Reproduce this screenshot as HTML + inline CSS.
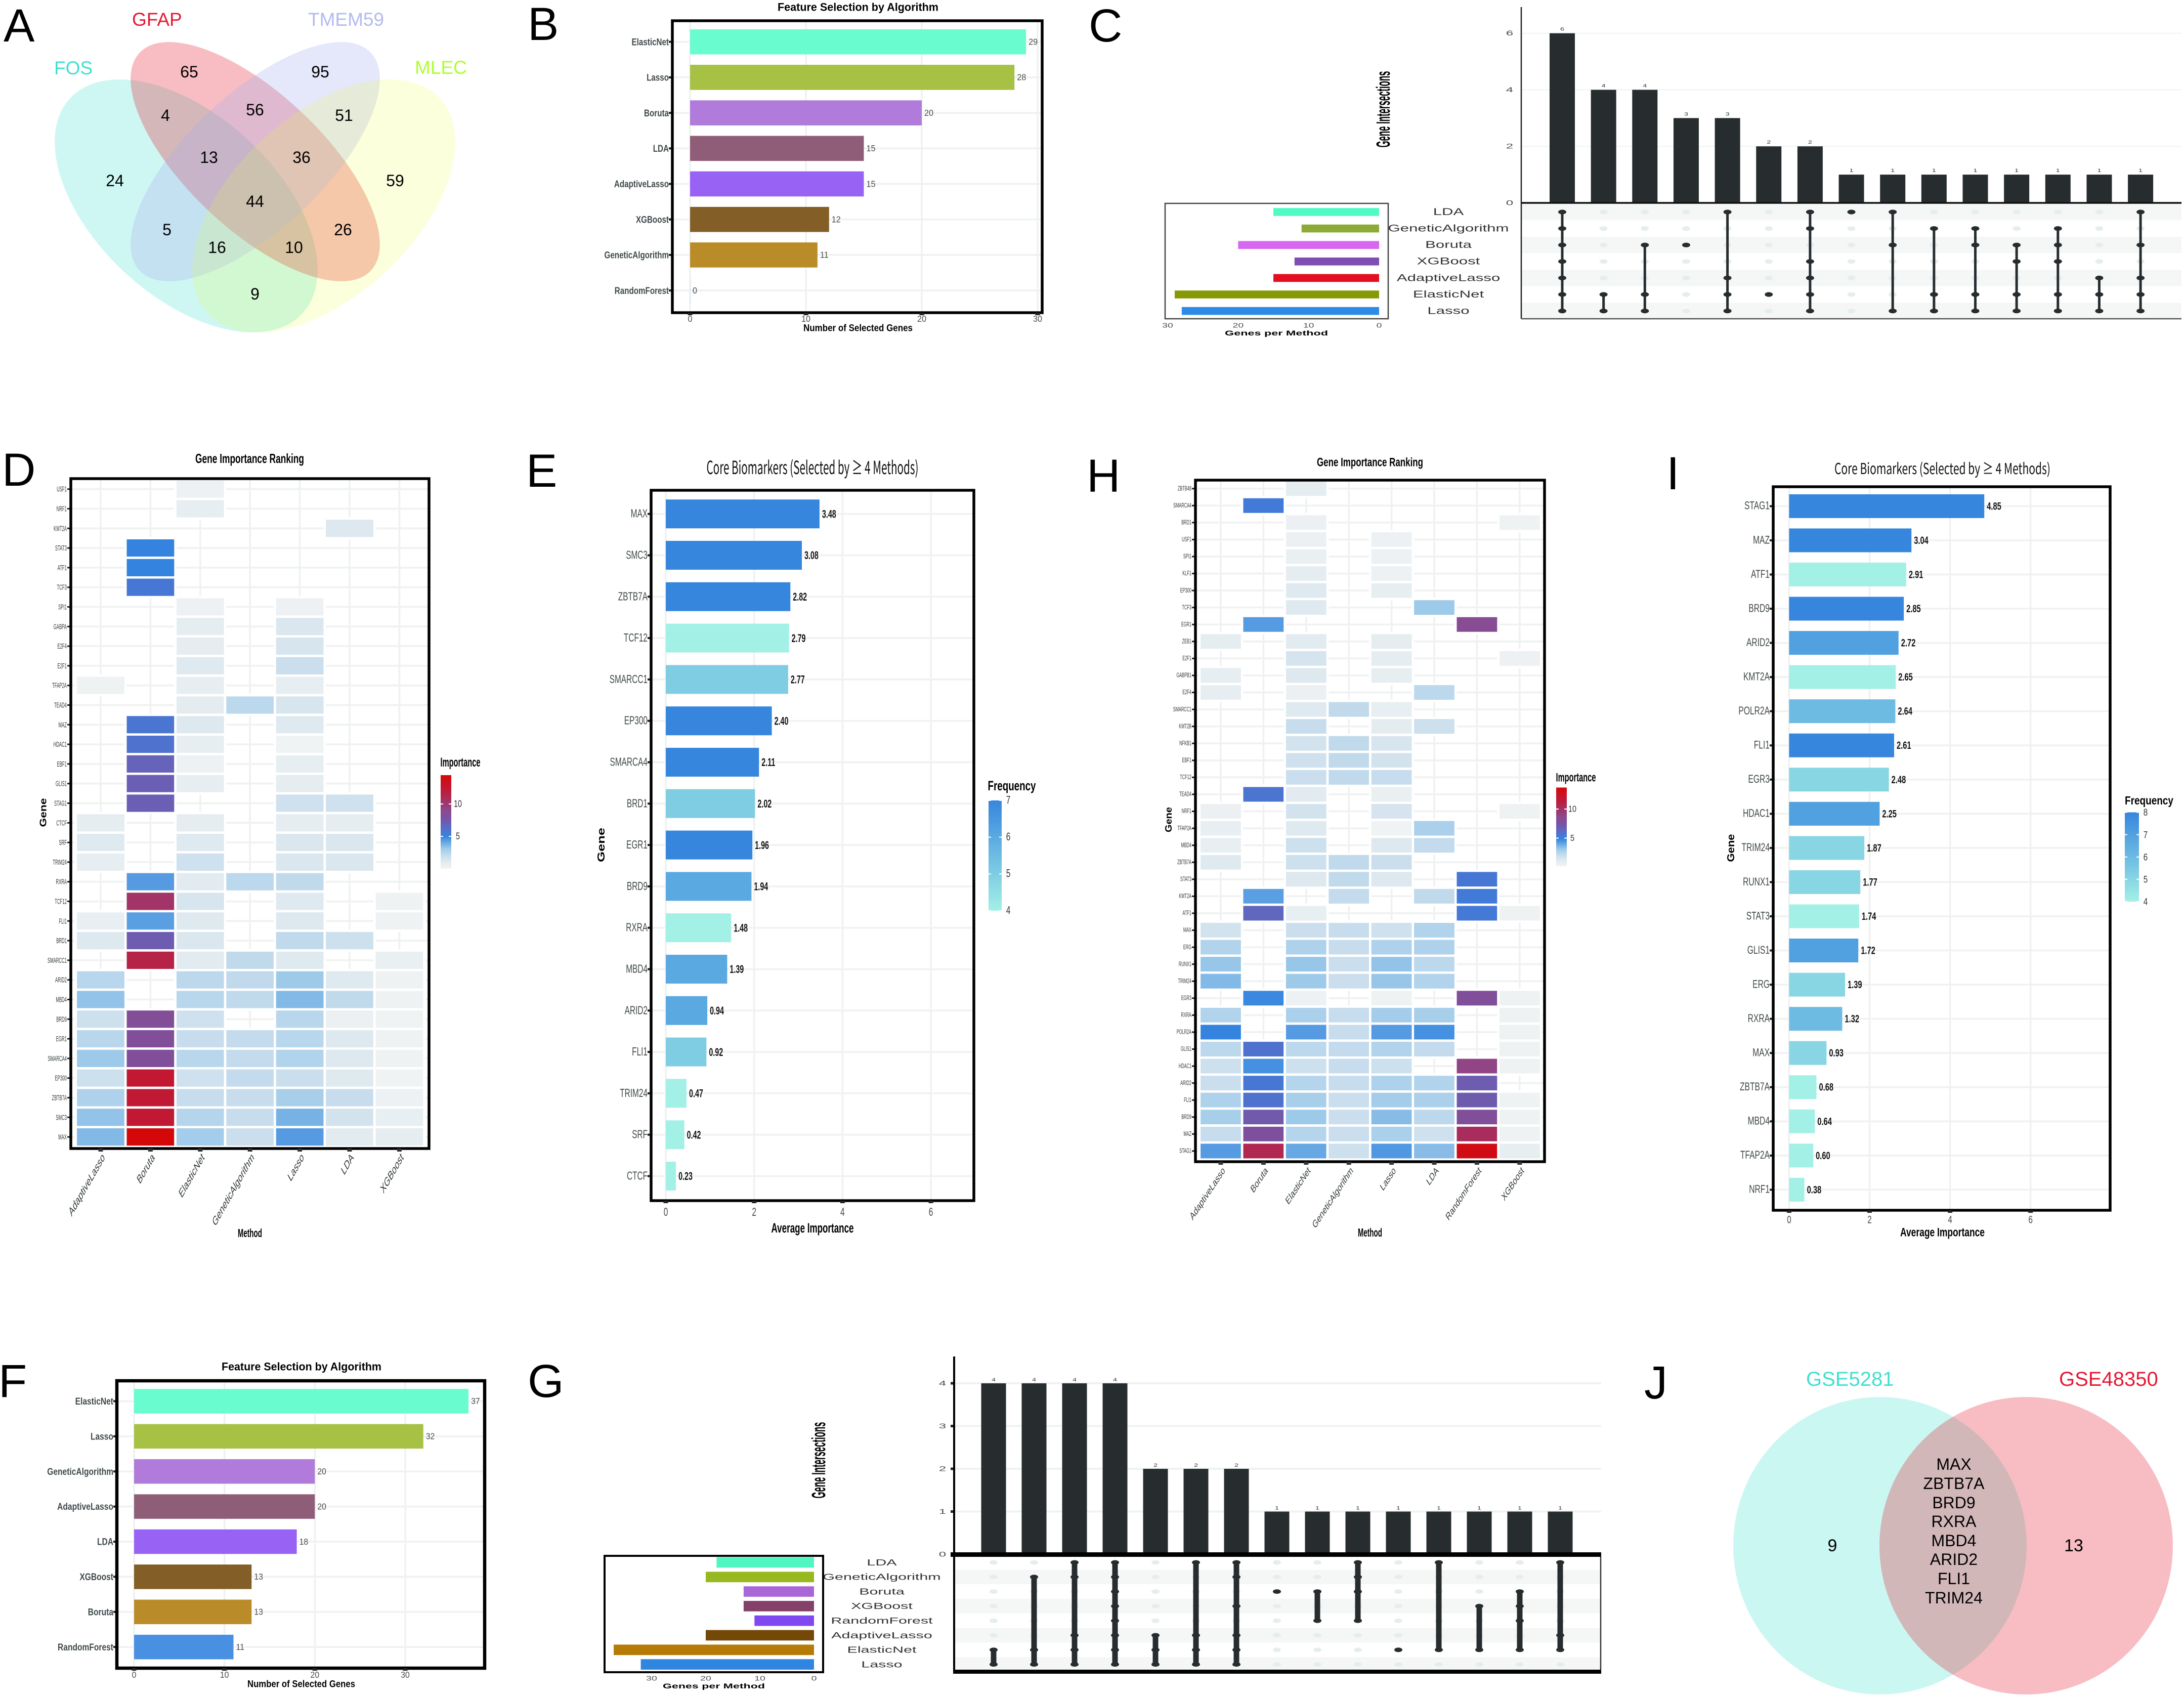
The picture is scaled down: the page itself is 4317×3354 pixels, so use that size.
<!DOCTYPE html>
<html lang="en">
<head>
<meta charset="utf-8">
<title>Machine-learning gene selection figure</title>
<style>
html,body{margin:0;padding:0;background:#fff}
svg{display:block}
text{font-family:"Liberation Sans",sans-serif}
</style>
</head>
<body>
<svg id="figure" xmlns="http://www.w3.org/2000/svg" width="4317" height="3354" viewBox="0 0 4317 3354">
  <rect x="0" y="0" width="4317" height="3354" fill="#ffffff"/>
  <defs id="gradients"></defs>

  <g font-size="92" fill="#000">
    <text x="7" y="82">A</text>
    <text x="1043" y="79">B</text>
    <text x="2152" y="82">C</text>
    <text x="4" y="960">D</text>
    <text x="1040" y="962">E</text>
    <text x="2148" y="972">H</text>
    <text x="3294" y="967">I</text>
    <text x="-3" y="2761">F</text>
    <text x="1043" y="2761">G</text>
    <text x="3250" y="2764">J</text>
  </g>

  <g id="panel-a">
    <ellipse cx="368" cy="407" rx="313" ry="179" transform="rotate(42.8 368 407)" fill="#40E0D0" fill-opacity="0.26"/>
    <ellipse cx="504.5" cy="319.5" rx="314" ry="134" transform="rotate(43.3 504.5 319.5)" fill="#E41A2D" fill-opacity="0.29"/>
    <ellipse cx="504.5" cy="319.5" rx="314" ry="134" transform="rotate(-43.3 504.5 319.5)" fill="#A8B0F0" fill-opacity="0.3"/>
    <ellipse cx="640" cy="407" rx="313" ry="179" transform="rotate(-42.8 640 407)" fill="#E6FF30" fill-opacity="0.17"/>
    <g font-size="37">
      <text x="107" y="147" fill="#40E0D0">FOS</text>
      <text x="261" y="51" fill="#E41A33">GFAP</text>
      <text x="609" y="51" fill="#B3BBF0">TMEM59</text>
      <text x="820" y="146" fill="#ADFF2F">MLEC</text>
    </g>
    <g font-size="32" text-anchor="middle" dominant-baseline="central" fill="#000">
      <text x="374" y="142" dominant-baseline="central">65</text>
      <text x="633" y="142" dominant-baseline="central">95</text>
      <text x="327" y="228" dominant-baseline="central">4</text>
      <text x="504" y="217" dominant-baseline="central">56</text>
      <text x="680" y="228" dominant-baseline="central">51</text>
      <text x="413" y="311" dominant-baseline="central">13</text>
      <text x="596" y="311" dominant-baseline="central">36</text>
      <text x="227" y="357" dominant-baseline="central">24</text>
      <text x="781" y="357" dominant-baseline="central">59</text>
      <text x="504" y="398" dominant-baseline="central">44</text>
      <text x="330" y="454" dominant-baseline="central">5</text>
      <text x="678" y="454" dominant-baseline="central">26</text>
      <text x="429" y="489" dominant-baseline="central">16</text>
      <text x="581" y="489" dominant-baseline="central">10</text>
      <text x="504" y="581" dominant-baseline="central">9</text>
    </g>
  </g>

  <g id="panel-b"></g>
  <g id="panel-c"></g>
  <g id="panel-d"></g>
  <g id="panel-e"></g>
  <g id="panel-h"></g>
  <g id="panel-i"></g>
  <g id="panel-f"></g>
  <g id="panel-g"></g>

  <g id="panel-j">
    <ellipse cx="3716" cy="3055" rx="290" ry="294" fill="#40E0D0" fill-opacity="0.27"/>
    <ellipse cx="4005" cy="3055" rx="290" ry="294" fill="#E41A2D" fill-opacity="0.29"/>
    <text x="3570" y="2739" font-size="40" fill="#40E0D0">GSE5281</text>
    <text x="4070" y="2739" font-size="40" fill="#E41A33">GSE48350</text>
    <text x="3622" y="3055" font-size="34" text-anchor="middle" dominant-baseline="central">9</text>
    <text x="4099" y="3055" font-size="34" text-anchor="middle" dominant-baseline="central">13</text>
    <g font-size="32" text-anchor="middle">
      <text x="3862" y="2894" dominant-baseline="central">MAX</text>
      <text x="3862" y="2932" dominant-baseline="central">ZBTB7A</text>
      <text x="3862" y="2970" dominant-baseline="central">BRD9</text>
      <text x="3862" y="3007" dominant-baseline="central">RXRA</text>
      <text x="3862" y="3045" dominant-baseline="central">MBD4</text>
      <text x="3862" y="3082" dominant-baseline="central">ARID2</text>
      <text x="3862" y="3120" dominant-baseline="central">FLI1</text>
      <text x="3862" y="3158" dominant-baseline="central">TRIM24</text>
    </g>
  </g>
</svg>

<script>
// ---------- Panel B ----------
const panelBCategories = ["ElasticNet","Lasso","Boruta","LDA","AdaptiveLasso","XGBoost","GeneticAlgorithm","RandomForest"];
const panelBValues = [29,28,20,15,15,12,11,0];
const panelBTicks = [0,10,20,30];

// ---------- Panel F ----------
const panelFCategories = ["ElasticNet","Lasso","GeneticAlgorithm","AdaptiveLasso","LDA","XGBoost","Boruta","RandomForest"];
const panelFValues = [37,32,20,20,18,13,13,11];
const panelFTicks = [0,10,20,30];

// ---------- Panel C ----------
const panelCSets = ["LDA","GeneticAlgorithm","Boruta","XGBoost","AdaptiveLasso","ElasticNet","Lasso"];
const panelCSetSizes = [15,11,20,12,15,29,28];
const panelCSizeTicks = [0,10,20,30];
const panelCCounts = [6,4,4,3,3,2,2,1,1,1,1,1,1,1,1];
const panelCCountTicks = [0,2,4,6];
const panelCMembers = [
  [0,1,2,3,4,5,6],[5,6],[2,5,6],[2],[0,4,5,6],[5],[0,1,3,4,5,6],[0],
  [0,2,6],[1,5,6],[1,2,5,6],[2,3,5,6],[1,2,3,5,6],[4,5,6],[0,2,4,5,6]
];

// ---------- Panel G ----------
const panelGSets = ["LDA","GeneticAlgorithm","Boruta","XGBoost","RandomForest","AdaptiveLasso","ElasticNet","Lasso"];
const panelGSetSizes = [18,20,13,13,11,20,37,32];
const panelGSizeTicks = [0,10,20,30];
const panelGCounts = [4,4,4,4,2,2,2,1,1,1,1,1,1,1,1];
const panelGCountTicks = [0,1,2,3,4];
const panelGMembers = [
  [6,7],[1,6,7],[0,1,5,6,7],[0,1,2,3,4,5,6,7],[5,6,7],[0,5,6,7],[0,1,3,5,6,7],[2],
  [2,4],[0,1,2,4],[6],[0,6],[3,6],[2,3,4,6],[0,5,6]
];

// ---------- Panel D ----------
const _ = null;
const panelDMethods = ["AdaptiveLasso","Boruta","ElasticNet","GeneticAlgorithm","Lasso","LDA","XGBoost"];
const panelDGenes = ["USF1","NRF1","KMT2A","STAT3","ATF1","TCF3","SPI1","GABPA","E2F4","E2F1","TFAP2A","TEAD4","MAZ","HDAC1","EBF1","GLIS1","STAG1","CTCF","SRF","TRIM24","RXRA","TCF12","FLI1","BRD1","SMARCC1","ARID2","MBD4","BRD9","EGR1","SMARCA4","EP300","ZBTB7A","SMC3","MAX"];
const panelDImportance = [
  [_,_,.3,_,_,_,_],
  [_,_,.7,_,_,_,_],
  [_,_,_,_,_,1.2,_],
  [_,5,_,_,_,_,_],
  [_,5,_,_,_,_,_],
  [_,5.7,_,_,_,_,_],
  [_,_,.3,_,.3,_,_],
  [_,_,.8,_,1.3,_,_],
  [_,_,.8,_,1.4,_,_],
  [_,_,1.1,_,1.9,_,_],
  [.2,_,.7,_,.7,_,_],
  [_,_,.9,2.3,1.4,_,_],
  [_,5.8,1.2,_,1.1,_,_],
  [_,6,.7,_,.1,_,_],
  [_,6.8,.3,_,.7,_,_],
  [_,7,.7,_,.8,_,_],
  [_,7,_,_,1.7,1.7,_],
  [.8,_,.8,_,.8,.8,_],
  [1.1,_,1.1,_,1.3,1.3,_],
  [.7,_,1.7,_,1.3,1.3,_],
  [_,4.4,1,2.3,2.2,_,_],
  [_,10.4,1.4,_,1.1,_,.2],
  [.6,4.3,1.1,_,1.2,_,.2],
  [1.2,7.2,1.3,_,2.2,1.8,_],
  [_,11.5,1,2.2,1.1,_,.5],
  [2.4,_,2.3,2.2,3.1,1.1,.2],
  [3.3,_,2.4,2.2,3.6,2.2,.2],
  [1.8,8.4,1.7,_,2.4,.4,.1],
  [2.4,8.3,2,2.1,2.4,1.2,.2],
  [3.1,8.3,2.4,2.1,2.6,1.2,.2],
  [1.8,12.4,1.7,2.1,1.9,1.1,.1],
  [2.7,12.3,2,2,2.9,2,.3],
  [3.3,12.3,2.5,2,3.8,1.6,.6],
  [3.6,14.4,3,1.9,4.4,1,.8]
];
const panelDLegendTicks = [5,10];

// ---------- Panel H ----------
const panelHMethods = ["AdaptiveLasso","Boruta","ElasticNet","GeneticAlgorithm","Lasso","LDA","RandomForest","XGBoost"];
const panelHGenes = ["ZBTB48","SMARCA4","BRD1","USF1","SPI1","KLF1","EP300","TCF3","EGR1","ZEB1","E2F1","GABPB1","E2F4","SMARCC1","KMT2B","NFKB1","EBF1","TCF12","TEAD4","NRF1","TFAP2A","MBD4","ZBTB7A","STAT3","KMT2A","ATF1","MAX","ERG","RUNX1","TRIM24","EGR3","RXRA","POLR2A","GLIS1","HDAC1","ARID2","FLI1","BRD9","MAZ","STAG1"];
const panelHImportance = [
  [_,_,.8,_,_,_,_,_],
  [_,5.5,_,_,_,_,_,_],
  [_,_,.4,_,_,_,_,.2],
  [_,_,.4,_,.3,_,_,_],
  [_,_,.5,_,.3,_,_,_],
  [_,_,.8,_,.3,_,_,_],
  [_,_,1.1,_,.7,_,_,_],
  [_,_,1.1,_,_,3.1,_,_],
  [_,4.4,_,_,_,_,8.7,_],
  [.8,_,1,_,.8,_,_,_],
  [_,_,1.5,_,.8,_,_,.3],
  [.7,_,1.2,_,.7,_,_,_],
  [.7,_,.4,_,_,2.3,_,_],
  [_,_,1.1,2.2,.6,_,_,_],
  [_,_,2,_,.9,1.8,_,_],
  [_,_,1.6,2.2,1.4,_,_,_],
  [_,_,1.7,2.2,1.6,_,_,_],
  [_,_,1.9,2.2,2,_,_,_],
  [_,5.9,1,_,.5,_,_,_],
  [.4,_,1.6,_,1.5,_,_,.2],
  [.6,_,1.1,_,.1,2.8,_,_],
  [.6,_,1.8,_,1.2,2.1,_,_],
  [1.1,_,1.8,2.2,1.9,_,_,_],
  [_,_,1.2,2.2,1.2,_,5.7,_],
  [_,4.3,_,2.1,_,2.2,5.5,_],
  [_,6.6,.6,_,_,_,5.6,.2],
  [1.6,_,1.9,2,1.7,2.6,_,_],
  [2.6,_,2.7,2,2.7,2.7,_,_],
  [3.2,_,3.2,1.9,3.3,2.3,_,_],
  [3.6,_,3.1,1.9,3.2,2.6,_,_],
  [_,4.9,.3,_,.2,_,8.3,.2],
  [2.6,_,2.8,2,3,2.9,_,.2],
  [5,_,4.4,2,4.4,4.7,_,.2],
  [2.3,6,2.3,2.1,2.6,2.1,_,.2],
  [1.8,4.7,1.8,2,1.8,_,9.3,.2],
  [1.9,5.7,2.5,2,2.7,2.6,7.2,_],
  [2.7,6,2.9,1.9,3,2.8,7.3,.2],
  [2.9,7.4,3.1,1.9,3.5,2.3,8.3,.2],
  [2,8.1,2.5,1.9,2.8,1.7,10.8,.2],
  [4.4,11.2,4.1,1.8,4.5,3.5,14,.7]
];
const panelHLegendTicks = [5,10];

// ---------- Panel E ----------
const panelEGenes = ["MAX","SMC3","ZBTB7A","TCF12","SMARCC1","EP300","SMARCA4","BRD1","EGR1","BRD9","RXRA","MBD4","ARID2","FLI1","TRIM24","SRF","CTCF"];
const panelEImportance = [3.48,3.08,2.82,2.79,2.77,2.40,2.11,2.02,1.96,1.94,1.48,1.39,0.94,0.92,0.47,0.42,0.23];
const panelEFrequency = [7,7,7,4,5,7,7,5,7,6,4,6,6,5,4,4,4];
const panelETicks = [0,2,4,6];
const panelEFreqTicks = [4,5,6,7];

// ---------- Panel I ----------
const panelIGenes = ["STAG1","MAZ","ATF1","BRD9","ARID2","KMT2A","POLR2A","FLI1","EGR3","HDAC1","TRIM24","RUNX1","STAT3","GLIS1","ERG","RXRA","MAX","ZBTB7A","MBD4","TFAP2A","NRF1"];
const panelIImportance = [4.85,3.04,2.91,2.85,2.72,2.65,2.64,2.61,2.48,2.25,1.87,1.77,1.74,1.72,1.39,1.32,0.93,0.68,0.64,0.60,0.38];
const panelIFrequency = [8,8,4,8,7,4,6,8,5,7,5,5,4,7,5,6,5,4,4,4,4];
const panelITicks = [0,2,4,6];
const panelIFreqTicks = [4,5,6,7,8];

// ---------- helpers ----------
const NS = "http://www.w3.org/2000/svg";
const GRID = "#f0f2f2";
function add(parent, tag, attrs) {
  const el = document.createElementNS(NS, tag);
  for (const k in attrs) el.setAttribute(k, attrs[k]);
  parent.appendChild(el);
  return el;
}
function linear(d0, d1, r0, r1) { return v => r0 + (v - d0) * (r1 - r0) / (d1 - d0); }
function band(first, step) { return i => first + i * step; }
function hex(c) { return [1,3,5].map(i => parseInt(c.substr(i,2),16)); }
function mix(a, b, t) {
  const A = hex(a), B = hex(b);
  return "rgb(" + A.map((v,i) => Math.round(v + (B[i]-v)*t)).join(",") + ")";
}
function label(parent, name, str, x, y, o) {
  o = o || {};
  const el = document.createElementNS(NS, "text");
  
  
  let tf = "translate(" + x + " " + y + ")";
  if (o.tf) tf += " " + o.tf;
  if (o.rot) tf += " rotate(" + o.rot + ")";
  if (o.sx) tf += " scale(" + o.sx + " 1)";
  el.setAttribute("transform", tf);
  el.setAttribute("font-size", o.size || 20);
  el.setAttribute("fill", o.fill || "#000");
  el.setAttribute("text-anchor", o.anchor || "middle");
  el.setAttribute("dominant-baseline", "central");
  if (o.weight) el.setAttribute("font-weight", o.weight);
  if (o.family) el.setAttribute("style", "font-family:" + o.family);
  if (o.len) {
    el.setAttribute("textLength", o.len);
    el.setAttribute("lengthAdjust", "spacingAndGlyphs");
  }
  el.textContent = str;
  parent.appendChild(el);
  return el;
}
function line(parent, name, x1, y1, x2, y2, stroke, width) {
  const el = add(parent, "line", {x1:x1, y1:y1, x2:x2, y2:y2, stroke:stroke, "stroke-width":width});
  
  
  return el;
}
function frame(parent, name, f, stroke, width) {
  const el = add(parent, "rect", {x:f.x, y:f.y, width:f.w, height:f.h, fill:"none", stroke:stroke, "stroke-width":width});
  
  
  return el;
}

const algorithmPalette = ["#68FCCF","#A6C144","#B07BDB","#905D78","#9862F5","#835E26","#BA8C29","#4A90E2"];
const importanceStops = [[0,"#f2f4f4"],[1,"#e2ebf0"],[2,"#c7dded"],[3,"#a3cdea"],[4,"#6cabe4"],[5,"#3484df"],[6,"#4f72cf"],[7,"#6a5fb5"],[8,"#7c509f"],[9,"#8c4a8e"],[10,"#9b3a74"],[11,"#ad2a56"],[12,"#bd1c38"],[13,"#c9122a"],[14.45,"#d40808"]];
function importanceColor(v) {
  for (let i = 1; i < importanceStops.length; i++) {
    const a = importanceStops[i-1], b = importanceStops[i];
    if (v <= b[0]) return mix(a[1], b[1], (v - a[0]) / (b[0] - a[0]));
  }
  return importanceStops[importanceStops.length-1][1];
}
const FREQ_LOW = "#A3F0E6", FREQ_HIGH = "#3686DE";
function gradient(id, stops) {
  const defs = document.getElementById("gradients");
  const g = add(defs, "linearGradient", {id:id, x1:0, y1:1, x2:0, y2:0});
  stops.forEach(s => add(g, "stop", {offset:s[0], "stop-color":s[1]}));
}

// horizontal bar panels (B, F, E, I)
function drawBars(g, cfg, cats, vals, ticks, fillOf, fmt) {
  const f = cfg.frame, x = cfg.x, y = cfg.y;
  ticks.forEach(t => {
    line(g, "x-gridline-" + t, x(t), f.y, x(t), f.y + f.h, GRID, 3.7);
  });
  cats.forEach((c, i) => {
    line(g, "y-gridline-" + c, f.x, y(i), f.x + f.w, y(i), GRID, 3.7);
  });
  cats.forEach((c, i) => {
    const bar = add(g, "rect", {x:x(0), y:y(i) - cfg.barH/2, width:Math.max(x(vals[i]) - x(0), 0.8), height:cfg.barH, fill:fillOf(i)});
    
    
    label(g, "value-label-" + c, fmt(vals[i]), x(vals[i]) + cfg.val.gap, y(i), Object.assign({anchor:"start"}, cfg.val));
    label(g, "gene-or-method-label-" + c, c, f.x - 7, y(i), Object.assign({anchor:"end"}, cfg.cat));
    line(g, "y-tick-" + c, f.x - 7, y(i), f.x, y(i), "#222", 4);
  });
  frame(g, "plot-frame", f, "#000", cfg.frameW || 5.5);
  ticks.forEach(t => {
    line(g, "x-tick-" + t, x(t), f.y + f.h, x(t), f.y + f.h + 5, "#222", 9);
    label(g, "x-tick-label-" + t, String(t), x(t), cfg.tickY, cfg.tick);
  });
}

// heatmap panels (D, H)
function drawHeatmap(g, cfg, genes, methods, matrix) {
  const f = cfg.frame, x = cfg.x, y = cfg.y;
  methods.forEach((m, j) => {
    line(g, "column-gridline-" + m, x(j), f.y, x(j), f.y + f.h, GRID, 3.8);
  });
  genes.forEach((name, i) => {
    line(g, "row-gridline-" + name, f.x, y(i), f.x + f.w, y(i), GRID, 3.8);
  });
  genes.forEach((name, i) => {
    matrix[i].forEach((v, j) => {
      if (v === null) return;
      const cell = add(g, "rect", {x:x(j) - cfg.colStep/2, y:y(i) - cfg.rowStep/2, width:cfg.colStep, height:cfg.rowStep, fill:importanceColor(v), stroke:"#fff", "stroke-width":4.6});
      
      
    });
    label(g, "gene-label-" + name, name, f.x - 8, y(i), Object.assign({anchor:"end"}, cfg.cat));
    line(g, "y-tick-" + name, f.x - 7, y(i), f.x, y(i), "#222", 3);
  });
  frame(g, "plot-frame", f, "#000", 5.5);
  methods.forEach((m, j) => {
    line(g, "x-tick-" + m, x(j), f.y + f.h, x(j), f.y + f.h + 6, "#333", 9);
    label(g, "method-label-" + m, m, x(j) + cfg.methodDx, cfg.methodY, cfg.method);
  });
}

function drawLegend(g, cfg, ticks, gradId) {
  const bar = add(g, "rect", {x:cfg.x, y:cfg.top, width:cfg.w, height:cfg.bottom - cfg.top, fill:"url(#" + gradId + ")"});
  
  
  ticks.forEach(t => {
    line(g, "legend-tick-" + t, cfg.x, cfg.scale(t), cfg.x + 5, cfg.scale(t), "#fff", 2);
    line(g, "legend-tick-right-" + t, cfg.x + cfg.w - 5, cfg.scale(t), cfg.x + cfg.w, cfg.scale(t), "#fff", 2);
    label(g, "legend-label-" + t, String(t), cfg.labelX, cfg.scale(t), cfg.label);
  });
}

// UpSet panels (C, G)
function drawUpset(g, cfg, sets, sizes, sizeTicks, counts, countTicks, members, palette) {
  const X = cfg.colX, Y = cfg.countY, R = cfg.rowY;
  countTicks.forEach(t => {
    if (t > 0) line(g, "count-gridline-" + t, cfg.axisX, Y(t), cfg.right, Y(t), cfg.gridColor, cfg.gridW);
    label(g, "count-tick-label-" + t, String(t), cfg.axisX - cfg.tickGap, Y(t), cfg.countTick);
    if (cfg.tickMarks) line(g, "count-tick-" + t, cfg.axisX - 7, Y(t), cfg.axisX, Y(t), "#222", 5);
  });
  counts.forEach((v, j) => {
    const bar = add(g, "rect", {x:X(j) - cfg.barW/2, y:Y(v), width:cfg.barW, height:Y(0) - Y(v), fill:"#272c2e"});
    
    
    label(g, "intersection-value-" + (j + 1), String(v), X(j), Y(v) - cfg.valueGap, cfg.value);
  });
  sets.forEach((s, i) => {
    if (i % 2 === cfg.stripeParity) {
      const st = add(g, "rect", {x:cfg.axisX, y:R(i) - cfg.rowStep/2, width:cfg.right - cfg.axisX, height:cfg.rowStep, fill:"#f5f7f7"});
      
      
    }
  });
  members.forEach((m, j) => {
    sets.forEach((s, i) => {
      const on = m.indexOf(i) >= 0;
      const dot = add(g, "ellipse", {cx:X(j), cy:R(i), rx:8, ry:cfg.dotRy, fill:on ? "#272c2e" : "#e6edef"});
      
      
    });
  });
  members.forEach((m, j) => {
    if (m.length > 1) {
      line(g, "matrix-link-" + (j + 1), X(j), R(Math.min.apply(null, m)), X(j), R(Math.max.apply(null, m)), "#272c2e", cfg.linkW);
    }
  });
  const S = cfg.sizeX;
  sets.forEach((s, i) => {
    const bar = add(g, "rect", {x:S(sizes[i]), y:R(i) - cfg.sizeBarH/2, width:S(0) - S(sizes[i]), height:cfg.sizeBarH, fill:palette[i]});
    
    
    label(g, "set-label-" + s, s, cfg.setLabelX, R(i), cfg.setLabel);
  });
  sizeTicks.forEach(t => {
    label(g, "set-size-tick-label-" + t, String(t), S(t), cfg.sizeTickY, cfg.sizeTick);
  });
}

const Q = id => document.getElementById(id);
const humanist = '"Noto Sans CJK JP","DejaVu Sans",sans-serif';

// ---------- Panel B ----------
(function(){
  const g = Q("panel-b");
  drawBars(g, {
    frame:{x:1329,y:41,w:731,h:577},
    x:linear(0,30,1364,2051), y:band(82.7,70.2), barH:49.6, tickY:630,
    cat:{size:19.5,sx:.78,weight:"bold",fill:"#414a4c"},
    val:{size:18,sx:.9,fill:"#4d4d4d",gap:5},
    tick:{size:18,sx:.9,fill:"#4d4d4d"}
  }, panelBCategories, panelBValues, panelBTicks, i => panelBValues[i] === 0 ? "#cfe0f0" : algorithmPalette[i], v => String(v));
  label(g, "chart-title", "Feature Selection by Algorithm", 1696, 14, {size:22,weight:"bold",len:318});
  label(g, "x-axis-title", "Number of Selected Genes", 1696, 649, {size:19,weight:"bold",len:216});
})();

// ---------- Panel F ----------
(function(){
  const g = Q("panel-f");
  drawBars(g, {
    frame:{x:231,y:2729,w:727,h:568},
    x:linear(0,30,265,801), y:band(2769.4,69.4), barH:48.5, tickY:3310,
    cat:{size:19.5,sx:.8,weight:"bold",fill:"#414a4c"},
    val:{size:18,sx:.88,fill:"#4d4d4d",gap:5},
    tick:{size:18,sx:.88,fill:"#4d4d4d"},
    frameW:6.5
  }, panelFCategories, panelFValues, panelFTicks, i => algorithmPalette[i], v => String(v));
  label(g, "chart-title", "Feature Selection by Algorithm", 596, 2701, {size:22,weight:"bold",len:316});
  label(g, "x-axis-title", "Number of Selected Genes", 595.5, 3329, {size:19,weight:"bold",len:213});
})();

// ---------- Panel E ----------
(function(){
  const g = Q("panel-e");
  drawBars(g, {
    frame:{x:1287,y:969,w:638,h:1404},
    x:linear(0,6,1316,1840), y:band(1015.7,81.8), barH:57, tickY:2396,
    cat:{size:23,sx:.67,fill:"#3f4848"},
    val:{size:22,sx:.65,weight:"bold",fill:"#111",gap:5},
    tick:{size:23,sx:.67,fill:"#3f4848"}
  }, panelEGenes, panelEImportance, panelETicks, i => mix(FREQ_LOW, FREQ_HIGH, (panelEFrequency[i]-4)/3), v => v.toFixed(2));
  label(g, "chart-title", "Core Biomarkers (Selected by \u2265 4 Methods)", 1606, 922, {size:36,len:419,family:humanist,fill:"#111"});
  label(g, "x-axis-title", "Average Importance", 1606, 2427, {size:27,weight:"bold",len:163});
  label(g, "y-axis-title", "Gene", 1189, 1670, {size:20,weight:"bold",rot:-90,len:68});
  gradient("freq-e", [[0,FREQ_LOW],[1,FREQ_HIGH]]);
  label(g, "legend-title", "Frequency", 2000, 1553, {size:27,weight:"bold",len:95});
  drawLegend(g, {x:1954,w:26,top:1582,bottom:1800,scale:linear(4,7,1800,1582),labelX:1993,label:{size:22,sx:.7,fill:"#333"}}, panelEFreqTicks, "freq-e");
})();

// ---------- Panel I ----------
(function(){
  const g = Q("panel-i");
  drawBars(g, {
    frame:{x:3505,y:962,w:666,h:1430},
    x:linear(0,6,3536.4,4013.7), y:band(1000.4,67.55), barH:47, tickY:2410,
    cat:{size:22,sx:.71,fill:"#3f4848"},
    val:{size:21,sx:.7,weight:"bold",fill:"#111",gap:5},
    tick:{size:21,sx:.72,fill:"#3f4848"}
  }, panelIGenes, panelIImportance, panelITicks, i => mix(FREQ_LOW, FREQ_HIGH, (panelIFrequency[i]-4)/4), v => v.toFixed(2));
  label(g, "chart-title", "Core Biomarkers (Selected by \u2265 4 Methods)", 3839.5, 924, {size:30,len:427,family:humanist,fill:"#111"});
  label(g, "x-axis-title", "Average Importance", 3839.5, 2436, {size:24,weight:"bold",len:167});
  label(g, "y-axis-title", "Gene", 3422, 1676, {size:20,weight:"bold",rot:-90,len:55});
  gradient("freq-i", [[0,FREQ_LOW],[1,FREQ_HIGH]]);
  label(g, "legend-title", "Frequency", 4248, 1582, {size:23,weight:"bold",len:96});
  drawLegend(g, {x:4200,w:28,top:1605.5,bottom:1782,scale:linear(4,8,1782,1605.5),labelX:4241,label:{size:19,sx:.8,fill:"#333"}}, panelIFreqTicks, "freq-i");
})();

// ---------- Panel D ----------
(function(){
  const g = Q("panel-d");
  drawHeatmap(g, {
    frame:{x:140,y:946,w:708,h:1324},
    x:band(199,98.4), y:band(966.7,38.8), colStep:98.4, rowStep:38.8,
    cat:{size:15,sx:.52,fill:"#333a3a"},
    methodDx:6, methodY:2284,
    method:{size:25,anchor:"end",tf:"scale(.573 1) rotate(-45)",fill:"#333a3a"}
  }, panelDGenes, panelDMethods, panelDImportance);
  label(g, "chart-title", "Gene Importance Ranking", 493.5, 906, {size:26,weight:"bold",len:215});
  label(g, "x-axis-title", "Method", 494, 2437, {size:23,weight:"bold",len:48});
  label(g, "y-axis-title", "Gene", 85.5, 1606, {size:18,weight:"bold",rot:-90,len:57});
  label(g, "legend-title", "Importance", 910, 1507, {size:25,weight:"bold",len:79});
  gradient("imp-d", importanceStops.map(s => [s[0]/14.45, s[1]]));
  drawLegend(g, {x:871,w:21,top:1532,bottom:1717,scale:linear(0,14.45,1717,1532),labelX:905,label:{size:19,sx:.75,fill:"#333"}}, panelDLegendTicks, "imp-d");
})();

// ---------- Panel H ----------
(function(){
  const g = Q("panel-h");
  drawHeatmap(g, {
    frame:{x:2363,y:949,w:690,h:1347},
    x:band(2413,84.4), y:band(965.7,33.57), colStep:84.4, rowStep:33.57,
    cat:{size:13,sx:.57,fill:"#333a3a"},
    methodDx:6, methodY:2310,
    method:{size:21,anchor:"end",tf:"scale(.665 1) rotate(-45)",fill:"#333a3a"}
  }, panelHGenes, panelHMethods, panelHImportance);
  label(g, "chart-title", "Gene Importance Ranking", 2708, 914, {size:24,weight:"bold",len:210});
  label(g, "x-axis-title", "Method", 2708, 2436, {size:23,weight:"bold",len:48});
  label(g, "y-axis-title", "Gene", 2310, 1620, {size:18,weight:"bold",rot:-90,len:50});
  label(g, "legend-title", "Importance", 3115, 1537, {size:24,weight:"bold",len:79});
  gradient("imp-h", importanceStops.map(s => [s[0]/14.45, s[1]]));
  drawLegend(g, {x:3076,w:21,top:1556.5,bottom:1712,scale:linear(.17,13.7,1712,1556.5),labelX:3108,label:{size:18,sx:.8,fill:"#333"}}, panelHLegendTicks, "imp-h");
})();

// ---------- Panel C ----------
(function(){
  const g = Q("panel-c");
  drawUpset(g, {
    axisX:3007, right:4312, tickGap:23,
    colX:band(3088,81.65), countY:linear(0,6,401,65.7), rowY:band(419,32.6), rowStep:32.6,
    barW:50, valueGap:8, stripeParity:0, dotRy:4.6, linkW:5, gridColor:"#f3f5f5", gridW:2.5,
    sizeX:linear(0,30,2726,2308), sizeBarH:15.6, setLabelX:2863, sizeTickY:643,
    countTick:{size:14,sx:1.85,fill:"#4d4d4d"},
    value:{size:9,sx:1.6,fill:"#333"},
    setLabel:{size:19,sx:1.64,fill:"#333"},
    sizeTick:{size:13,sx:1.5,fill:"#4d4d4d"}
  }, panelCSets, panelCSetSizes, panelCSizeTicks, panelCCounts, panelCCountTicks, panelCMembers,
     ["#4FFBC5","#8DAA34","#D766F0","#7F4CB3","#E20F20","#879A05","#2F8AE6"]);
  line(g, "count-axis-line", 3007, 14, 3007, 630, "#222", 2.5);
  line(g, "count-baseline", 3007, 401, 4312, 401, "#111", 3.5);
  line(g, "matrix-bottom-border", 3007, 630, 4312, 630, "#555", 2.5);
  frame(g, "set-size-frame", {x:2303,y:402,w:441,h:228}, "#444", 2.5);
  label(g, "y-axis-title", "Gene Intersections", 2735, 216, {size:38,weight:"bold",rot:-90,len:151});
  label(g, "set-size-axis-title", "Genes per Method", 2523, 658, {size:14,weight:"bold",len:204});
})();

// ---------- Panel G ----------
(function(){
  const g = Q("panel-g");
  drawUpset(g, {
    axisX:1886, right:3165, tickGap:23, tickMarks:true,
    colX:band(1964,80), countY:linear(0,4,3072,2734), rowY:band(3088,28.8), rowStep:28.8,
    barW:49, valueGap:7, stripeParity:1, dotRy:4.5, linkW:11, gridColor:"#f0f2f2", gridW:4,
    sizeX:linear(0,30,1609,1288), sizeBarH:20.7, setLabelX:1743, sizeTickY:3317,
    countTick:{size:14,sx:1.85,fill:"#4d4d4d"},
    value:{size:9,sx:1.6,fill:"#333"},
    setLabel:{size:18,sx:1.69,fill:"#333"},
    sizeTick:{size:13,sx:1.5,fill:"#4d4d4d"}
  }, panelGSets, panelGSetSizes, panelGSizeTicks, panelGCounts, panelGCountTicks, panelGMembers,
     ["#4FF6C2","#98B820","#A966D6","#85406A","#7F48F0","#744806","#B67A06","#2F85E0"]);
  line(g, "count-axis-line", 1886, 2681, 1886, 3308, "#000", 4);
  line(g, "count-baseline", 1879, 3072.5, 3165, 3072.5, "#000", 9);
  line(g, "matrix-bottom-border", 1886, 3304, 3165, 3304, "#000", 8);
  line(g, "matrix-right-border", 3164, 3077, 3164, 3300, "#333", 2.5);
  frame(g, "set-size-frame", {x:1195,y:3075,w:432,h:230}, "#000", 4);
  label(g, "y-axis-title", "Gene Intersections", 1619, 2886, {size:38,weight:"bold",rot:-90,len:151});
  label(g, "set-size-axis-title", "Genes per Method", 1411, 3332, {size:14,weight:"bold",len:202});
})();
</script>
</body>
</html>
